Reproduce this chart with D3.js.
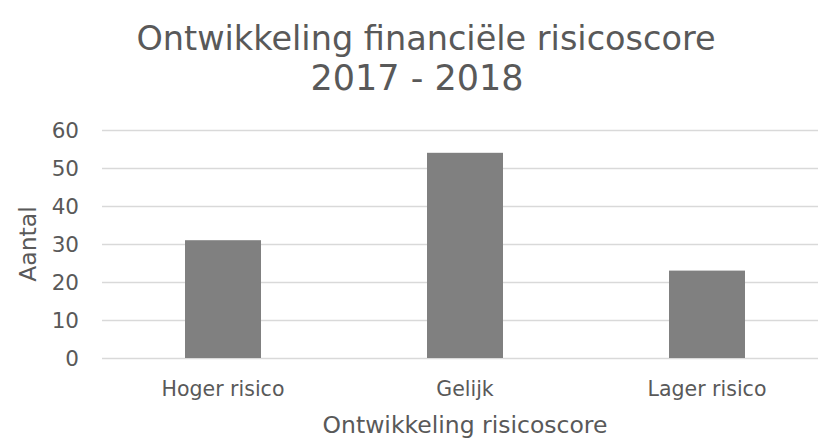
<!DOCTYPE html>
<html><head><meta charset="utf-8">
<script src="https://cdn.jsdelivr.net/npm/d3@7"></script>
<style>html,body{margin:0;padding:0;background:#fff;}svg{display:block;font-family:"DejaVu Sans",sans-serif;}</style>
</head><body>
<svg id="c" width="818" height="440"></svg>
<script>
const categories = ["Hoger risico", "Gelijk", "Lager risico"];
const values = [31, 54, 23];
const yTicks = [0, 10, 20, 30, 40, 50, 60];
const titleLines = ["Ontwikkeling financiële risicoscore", "2017 - 2018"];
const xTitle = "Ontwikkeling risicoscore";
const yTitle = "Aantal";

const svg = d3.select("#c");
const txt = "#595959";
const x = d3.scaleBand().domain(categories).range([102, 828]).paddingInner(0.686).paddingOuter(0.343);
const y = d3.scaleLinear().domain([0, 60]).range([358, 130]);

// gridlines
svg.append("g").selectAll("line").data(yTicks).join("line")
  .attr("x1", 102).attr("x2", 828)
  .attr("y1", d => Math.round(y(d)) + 0.5).attr("y2", d => Math.round(y(d)) + 0.5)
  .attr("stroke", "#d9d9d9").attr("stroke-width", 1.3);

// y tick labels
svg.append("g").selectAll("text").data(yTicks).join("text")
  .attr("x", 79).attr("y", d => y(d)).attr("dy", "0.36em")
  .attr("text-anchor", "end").attr("fill", txt).attr("font-size", 21.5)
  .text(d => d);

// bars
svg.append("g").selectAll("rect").data(values).join("rect")
  .attr("x", (d, i) => x(categories[i])).attr("width", x.bandwidth())
  .attr("y", d => y(d)).attr("height", d => y(0) - y(d))
  .attr("fill", "#808080");

// category labels
svg.append("g").selectAll("text").data(categories).join("text")
  .attr("x", d => x(d) + x.bandwidth() / 2).attr("y", 396)
  .attr("text-anchor", "middle").attr("fill", txt).attr("font-size", 20.5)
  .text(d => d);

// x title
svg.append("text").attr("x", 465).attr("y", 433).attr("text-anchor", "middle")
  .attr("fill", txt).attr("font-size", 23.5).text(xTitle);

// y title
svg.append("text").attr("transform", "translate(36,244) rotate(-90)")
  .attr("text-anchor", "middle").attr("fill", txt).attr("font-size", 23.5).text(yTitle);

// title
svg.append("g").selectAll("text").data(titleLines).join("text")
  .attr("x", (d, i) => i === 0 ? 426 : 417).attr("y", (d, i) => i === 0 ? 50 : 90)
  .attr("text-anchor", "middle").attr("fill", txt)
  .attr("font-size", (d, i) => i === 0 ? 33.5 : 35)
  .text(d => d);
</script>
</body></html>
